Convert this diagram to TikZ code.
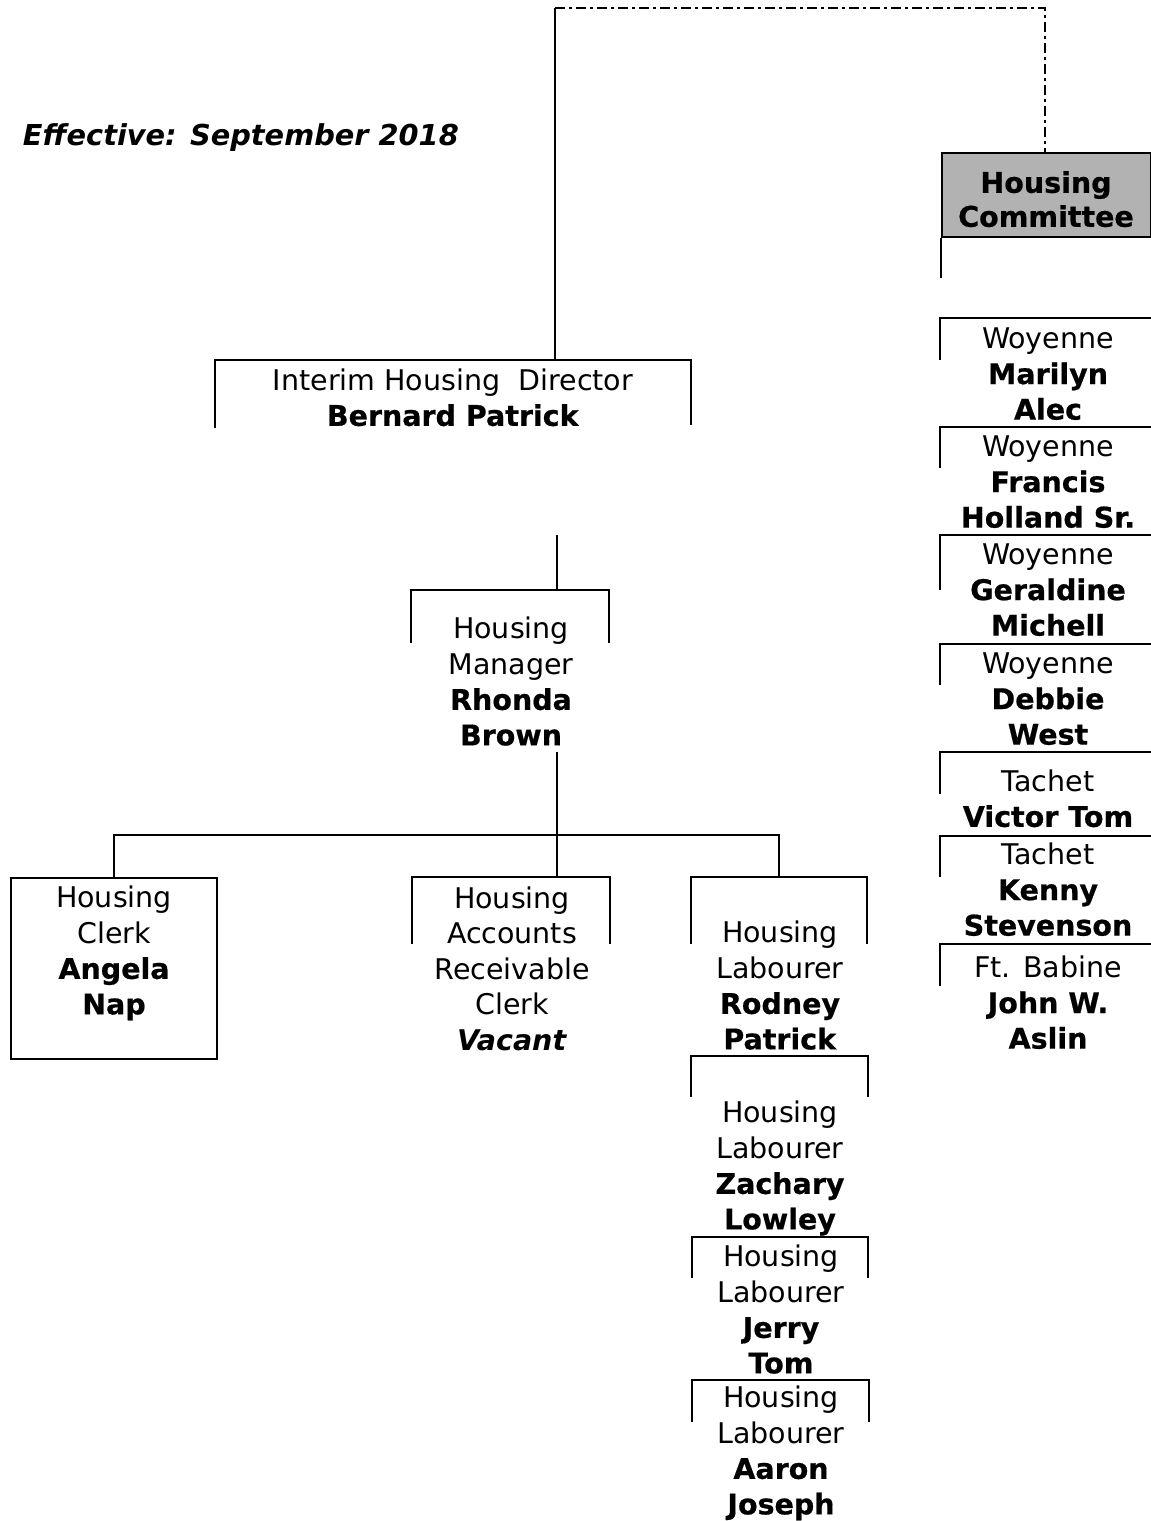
\documentclass[tikz,border=0pt]{standalone}
\usepackage{fontspec}
\setmainfont{DejaVu Sans}[BoldFeatures={FakeBold=0.6}]
\newcommand{\openbox}[6]{%
  \node[inner sep=0pt, minimum width=#4, minimum height=1pt, anchor=north] (#1) at (#2,#3) {};
  \draw ([yshift=-#5]#1.north west) -- (#1.north west) -- (#1.north east) -- ([yshift=-#6]#1.north east);
}
\begin{document}
\begin{tikzpicture}[x=1pt,y=-1pt,line width=2pt,
  txt/.style={align=center, inner sep=0pt, font=\fontsize{28.5}{35.5}\selectfont},
  title/.style={inner sep=0pt, anchor=base west, font=\fontsize{28.8}{35.5}\selectfont\bfseries\itshape},
  commbox/.style={draw, fill=black!30, inner sep=0pt},
  link/.style={line width=2pt},
  dotlink/.style={line width=2.2pt, dash pattern=on 10pt off 4pt on 3pt off 4pt}]
\useasboundingbox (0,0) rectangle (1151,1521);

% title
\node[title] (eff) at (22,145) {Effective: September 2018};

% Housing committee
\node[commbox, minimum width=209, minimum height=84, anchor=north west] (comm) at (941,152) {};
\node[txt, font=\fontsize{28.5}{34}\selectfont\bfseries] (commt) at (1046,203) {\strut Housing\\Committee\strut};
\draw[link] (comm.south west) -- ([yshift=-40]comm.south west);

% right column
\openbox{w1}{1048}{318}{214}{42}{0}
\node[txt] (w1t) at (1048,377) {\strut Woyenne\\\textbf{Marilyn}\\\textbf{Alec}\strut};
\openbox{w2}{1048}{427}{214}{41}{0}
\node[txt] (w2t) at (1048,485) {\strut Woyenne\\\textbf{Francis}\\\textbf{Holland Sr.}\strut};
\openbox{w3}{1048}{535}{214}{55}{0}
\node[txt] (w3t) at (1048,593) {\strut Woyenne\\\textbf{Geraldine}\\\textbf{Michell}\strut};
\openbox{w4}{1048}{644}{214}{41}{0}
\node[txt] (w4t) at (1048,702) {\strut Woyenne\\\textbf{Debbie}\\\textbf{West}\strut};
\openbox{t1}{1048}{752}{214}{42}{0}
\node[txt] (t1t) at (1048,802) {\strut Tachet\\\textbf{Victor Tom}\strut};
\openbox{t2}{1048}{836}{214}{41}{0}
\node[txt] (t2t) at (1048,893) {\strut Tachet\\\textbf{Kenny}\\\textbf{Stevenson}\strut};
\openbox{fb}{1048}{944}{214}{42}{0}
\node[txt] (fbt) at (1048,1006) {\strut Ft. Babine\\\textbf{John W.}\\\textbf{Aslin}\strut};

% director
\openbox{dir}{453}{360}{474}{68}{65}
\node[txt] (dirt) at (453,401) {\strut Interim Housing~~Director\\\textbf{Bernard Patrick}\strut};

% manager
\openbox{mgr}{510}{590}{196}{53}{53}
\node[txt] (mgrt) at (511,685) {\strut Housing\\Manager\\\textbf{Rhonda}\\\textbf{Brown}\strut};

% clerk (closed box)
\node[draw, inner sep=0pt, minimum width=206, minimum height=181, anchor=north] (clerk) at (114,877) {};
\node[txt] (clerkt) at (114,954) {\strut Housing\\Clerk\\\textbf{Angela}\\\textbf{Nap}\strut};

% accounts
\openbox{acct}{511}{877}{196}{67}{67}
\node[txt] (acctt) at (512,972) {\strut Housing\\Accounts\\Receivable\\Clerk\\\textbf{\textit{Vacant}}\strut};

% labourers
\openbox{lab1}{779}{877}{174}{67}{67}
\node[txt] (lab1t) at (780,989) {\strut Housing\\Labourer\\\textbf{Rodney}\\\textbf{Patrick}\strut};
\openbox{lab2}{779.5}{1056}{175}{41}{41}
\node[txt] (lab2t) at (780,1169) {\strut Housing\\Labourer\\\textbf{Zachary}\\\textbf{Lowley}\strut};
\openbox{lab3}{780}{1237}{174}{41}{41}
\node[txt] (lab3t) at (781,1313) {\strut Housing\\Labourer\\\textbf{Jerry}\\\textbf{Tom}\strut};
\openbox{lab4}{780.5}{1380}{175}{42}{42}
\node[txt] (lab4t) at (781,1454) {\strut Housing\\Labourer\\\textbf{Aaron}\\\textbf{Joseph}\strut};

% connectors
\coordinate (topL) at (555,8);
\coordinate (topR) at (1045,8);
\draw[link] (topL) -- (topL |- dir.north);
\draw[dotlink] (topL) -- (topR) -- (topR |- comm.north);

\coordinate (d1) at (557,535);
\draw[link] (d1) -- (d1 |- mgr.north);

\coordinate (m1) at (557,752);
\coordinate (bus) at (557,835);
\draw[link] (m1) -- (m1 |- acct.north);
\draw[link] (clerk.north) -- (clerk.north |- bus) -- (lab1.north |- bus) -- (lab1.north);
\end{tikzpicture}
\end{document}
